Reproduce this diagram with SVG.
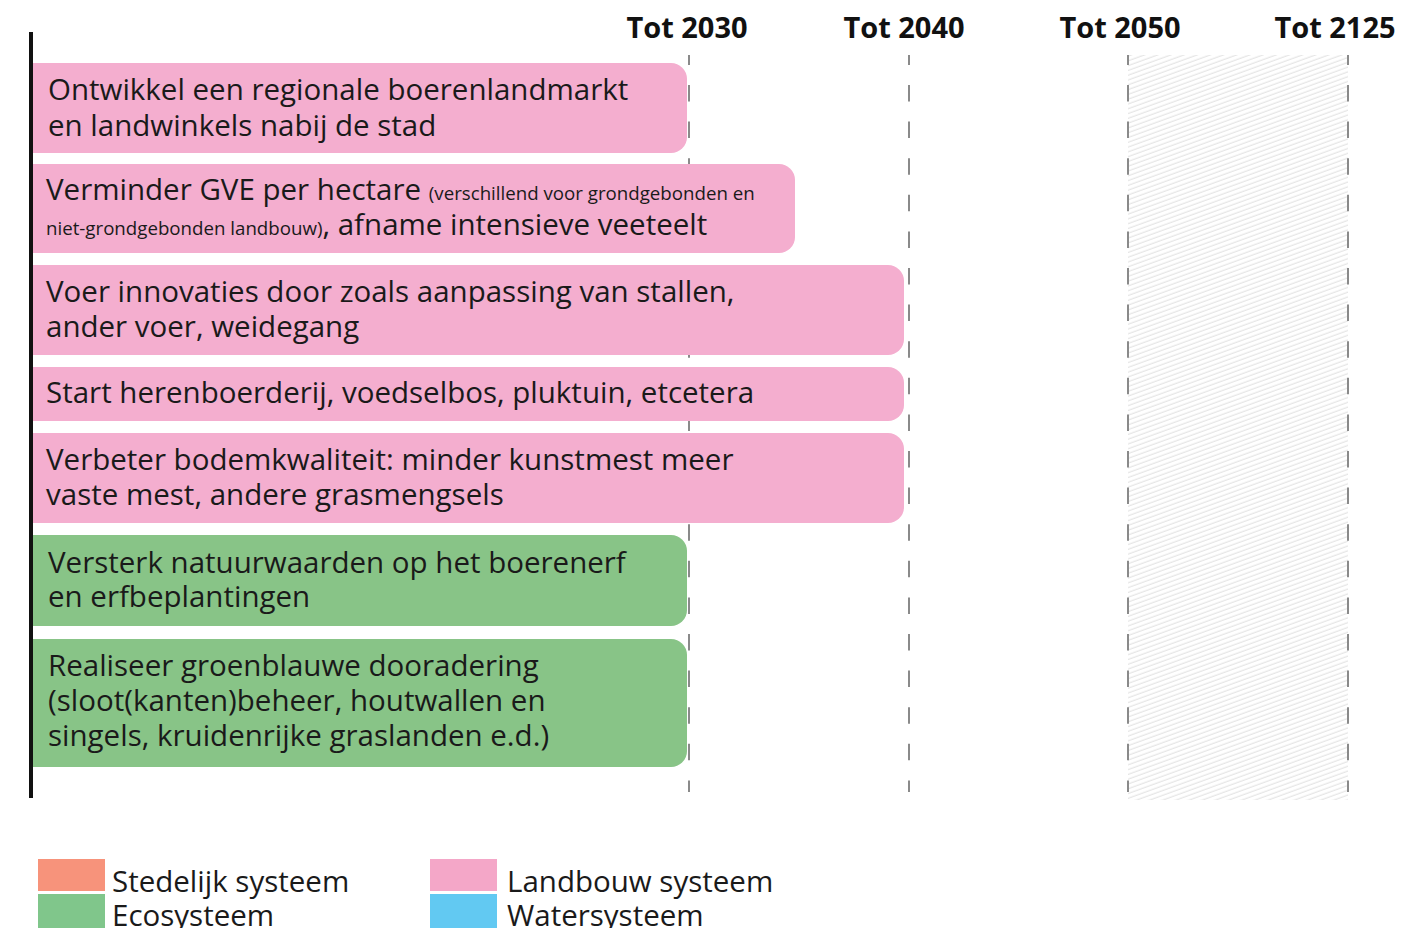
<svg xmlns="http://www.w3.org/2000/svg" width="1424" height="928" viewBox="0 0 1424 928">
<defs>
<pattern id="hatch" patternUnits="userSpaceOnUse" width="8" height="4.5" patternTransform="rotate(-20)">
<line x1="0" y1="2" x2="8" y2="2" stroke="#d6d6d6" stroke-width="0.8"/>
</pattern>
</defs>
<style>
.hdr{font-family:"Open Sans","Liberation Sans",sans-serif;font-weight:700;font-size:29px;fill:#111;text-anchor:middle}
.t{font-family:"Open Sans","Liberation Sans",sans-serif;font-size:29.5px;fill:#1a1a1a}
.s{font-size:18.7px}
.lg{font-family:"Open Sans","Liberation Sans",sans-serif;font-size:29.5px;fill:#1a1a1a}
.grid{stroke:#8a8a8a;stroke-width:2;stroke-dasharray:16.5 20.1;stroke-dashoffset:6.6}
.pink{fill:#f4aecf}
.green{fill:#88c487}
</style>
<rect x="1128" y="55" width="220" height="745" fill="url(#hatch)"/>
<g id="headers">
<text class="hdr" x="687" y="38">Tot 2030</text>
<text class="hdr" x="904" y="38">Tot 2040</text>
<text class="hdr" x="1120" y="38">Tot 2050</text>
<text class="hdr" x="1335" y="38">Tot 2125</text>
</g>
<g id="connectors">
<line class="grid" x1="689" y1="55" x2="689" y2="792"/>
<line class="grid" x1="909" y1="55" x2="909" y2="792"/>
<line class="grid" x1="1128" y1="55" x2="1128" y2="792"/>
<line class="grid" x1="1348" y1="55" x2="1348" y2="792"/>
<line x1="31" y1="32" x2="31" y2="798" stroke="#111" stroke-width="4"/>
</g>
<g id="bar1">
<path class="pink" d="M33 63H671A16 16 0 0 1 687 79V137A16 16 0 0 1 671 153H33Z"/>
<text class="t" x="48" y="100">Ontwikkel een regionale boerenlandmarkt</text>
<text class="t" x="48" y="136">en landwinkels nabij de stad</text>
</g>
<g id="bar2">
<path class="pink" d="M33 164H779A16 16 0 0 1 795 180V237A16 16 0 0 1 779 253H33Z"/>
<text class="t" x="46" y="200">Verminder GVE per hectare <tspan class="s">(verschillend voor grondgebonden en</tspan></text>
<text class="t" x="46" y="235"><tspan class="s">niet-grondgebonden landbouw)</tspan>, afname intensieve veeteelt</text>
</g>
<g id="bar3">
<path class="pink" d="M33 265H888A16 16 0 0 1 904 281V339A16 16 0 0 1 888 355H33Z"/>
<text class="t" x="46" y="302">Voer innovaties door zoals aanpassing van stallen,</text>
<text class="t" x="46" y="337">ander voer, weidegang</text>
</g>
<g id="bar4">
<path class="pink" d="M33 367H888A16 16 0 0 1 904 383V405A16 16 0 0 1 888 421H33Z"/>
<text class="t" x="46" y="403">Start herenboerderij, voedselbos, pluktuin, etcetera</text>
</g>
<g id="bar5">
<path class="pink" d="M33 433H888A16 16 0 0 1 904 449V507A16 16 0 0 1 888 523H33Z"/>
<text class="t" x="46" y="470">Verbeter bodemkwaliteit: minder kunstmest meer</text>
<text class="t" x="46" y="505">vaste mest, andere grasmengsels</text>
</g>
<g id="bar6">
<path class="green" d="M33 535H671A16 16 0 0 1 687 551V610A16 16 0 0 1 671 626H33Z"/>
<text class="t" x="48" y="573">Versterk natuurwaarden op het boerenerf</text>
<text class="t" x="48" y="607">en erfbeplantingen</text>
</g>
<g id="bar7">
<path class="green" d="M33 639H671A16 16 0 0 1 687 655V751A16 16 0 0 1 671 767H33Z"/>
<text class="t" x="48" y="676">Realiseer groenblauwe dooradering</text>
<text class="t" x="48" y="711">(sloot(kanten)beheer, houtwallen en</text>
<text class="t" x="48" y="746">singels, kruidenrijke graslanden e.d.)</text>
</g>
<g id="legend">
<rect x="38" y="859" width="67" height="32" fill="#f7937b"/>
<rect x="38" y="894" width="67" height="34" fill="#80c68b"/>
<rect x="430" y="859" width="67" height="32" fill="#f4a7c8"/>
<rect x="430" y="894" width="67" height="34" fill="#62c9f2"/>
<text class="lg" x="112" y="892">Stedelijk systeem</text>
<text class="lg" x="112" y="926">Ecosysteem</text>
<text class="lg" x="507" y="892">Landbouw systeem</text>
<text class="lg" x="507" y="926">Watersysteem</text>
</g>
</svg>
